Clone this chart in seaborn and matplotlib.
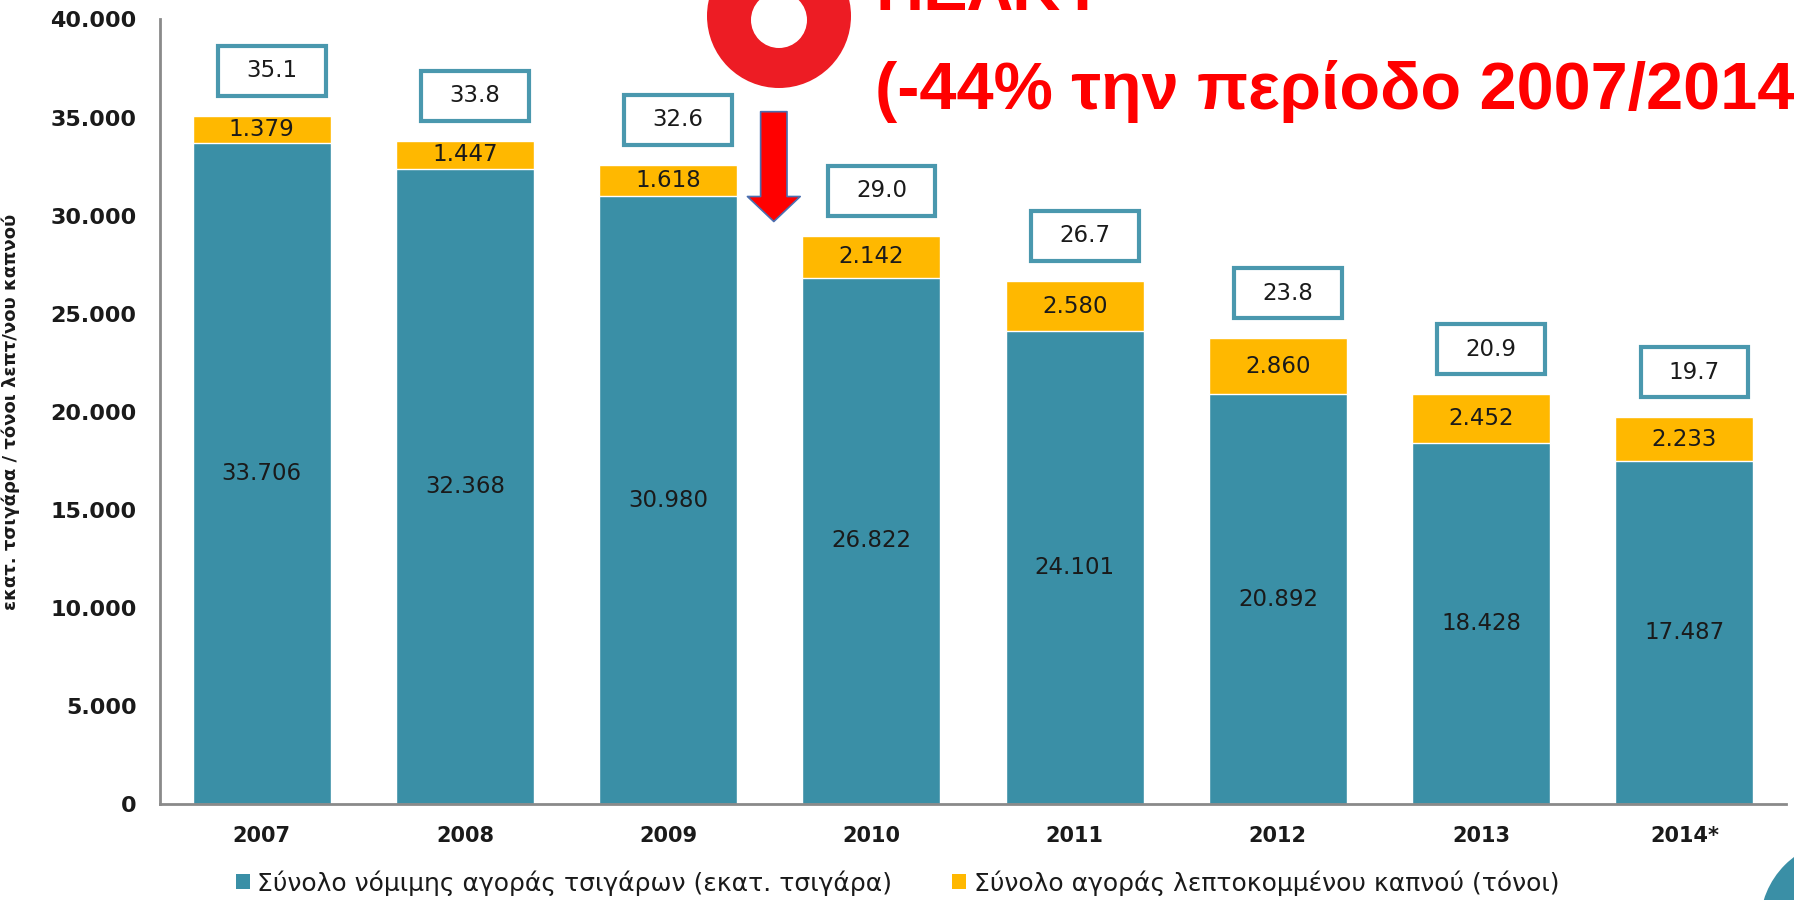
import matplotlib
matplotlib.use('Agg')
import matplotlib.pyplot as plt
import seaborn as sns
from matplotlib.patches import Rectangle, Patch, Circle
from matplotlib.ticker import FuncFormatter, FixedLocator

# data
years = ['2007', '2008', '2009', '2010', '2011', '2012', '2013', '2014*']
legal_cigs = [33706, 32368, 30980, 26822, 24101, 20892, 18428, 17487]   # εκατ. τσιγάρα
fine_cut = [1379, 1447, 1618, 2142, 2580, 2860, 2452, 2233]            # τόνοι
total_labels = ['35.1', '33.8', '32.6', '29.0', '26.7', '23.8', '20.9', '19.7']
legend_names = ['Σύνολο νόμιμης αγοράς τσιγάρων (εκατ. τσιγάρα)',
                'Σύνολο αγοράς λεπτοκομμένου καπνού (τόνοι)']
headline = ['ΠΕΛΚΥ', '(-44% την περίοδο 2007/2014']

teal = '#3A8FA6'
orange = '#FFB800'
box_edge = '#4A98AE'
axis_grey = '#8A8A8A'
txt = '#1A1A1A'

sns.set_style('white')
plt.rcParams['font.family'] = ['DejaVu Sans']

def dotted(v, pos=None):
    return f'{int(v):,}'.replace(',', '.')

totals = [a + b for a, b in zip(legal_cigs, fine_cut)]

fig = plt.figure(figsize=(17.94, 9), dpi=100)
ax = fig.add_axes([160 / 1794, 1 - 804 / 900, 1626 / 1794, 784.5 / 900])

# stacked bars: total first (orange), legal cigarettes on top of it (teal)
sns.barplot(x=years, y=totals, color=orange, width=0.68, saturation=1, ax=ax)
sns.barplot(x=years, y=legal_cigs, color=teal, width=0.68, saturation=1, ax=ax)

ax.set_ylim(0, 40000)
ax.set_xlim(-0.5, len(years) - 0.5)
ax.set_yticks(range(0, 40001, 5000))
ax.yaxis.set_major_formatter(FuncFormatter(dotted))

for s in ['top', 'right']:
    ax.spines[s].set_visible(False)
for s in ['left', 'bottom']:
    ax.spines[s].set_color(axis_grey)
    ax.spines[s].set_linewidth(2)

ax.tick_params(axis='y', length=6, width=1.8, color=axis_grey, pad=11,
               labelsize=16, labelcolor=txt)
ax.tick_params(axis='x', which='major', length=0, pad=16, labelsize=15, labelcolor=txt)
ax.xaxis.set_minor_locator(FixedLocator([i - 0.5 for i in range(len(years) + 1)]))
ax.tick_params(axis='x', which='minor', length=6, width=1.8, color=axis_grey)
for lab in ax.get_xticklabels() + ax.get_yticklabels():
    lab.set_fontweight('bold')

ax.set_xlabel('')
ax.set_ylabel('εκατ. τσιγάρα / τόνοι λεπτ/νου καπνού', fontsize=13,
              fontweight='bold', color=txt)
ax.yaxis.set_label_coords(-0.086, 0.5)

# value labels inside the segments and boxed totals above the bars
box_w, box_h, box_gap = 0.53, 2550, 2300
for i in range(len(years)):
    ax.text(i, legal_cigs[i] / 2, dotted(legal_cigs[i]), ha='center', va='center',
            fontsize=16.5, color=txt)
    ax.text(i, legal_cigs[i] + fine_cut[i] / 2, dotted(fine_cut[i]), ha='center',
            va='center', fontsize=16.5, color=txt)
    cy = totals[i] + box_gap
    ax.add_patch(Rectangle((i + 0.05 - box_w / 2, cy - box_h / 2), box_w, box_h,
                           facecolor='white', edgecolor=box_edge, lw=3, zorder=4))
    ax.text(i + 0.05, cy, total_labels[i], ha='center', va='center', fontsize=16.5,
            color=txt, zorder=5)

# red downward arrow between 2009 and 2010
ax.annotate('', xy=(2.52, 29700), xytext=(2.52, 35300),
            arrowprops=dict(arrowstyle='simple,head_width=38,head_length=18,tail_width=19',
                            mutation_scale=1, fc='#FF0000', ec='#4A6FB0', lw=1.2,
                            shrinkA=0, shrinkB=0), zorder=6)

handles = [Patch(facecolor=teal, edgecolor='none'), Patch(facecolor=orange, edgecolor='none')]
fig.legend(handles, legend_names, loc='center left', bbox_to_anchor=(236 / 1794, 17 / 900),
           ncol=2, frameon=False, fontsize=18, handlelength=0.55, handleheight=0.55,
           handletextpad=0.3, columnspacing=2.4, borderpad=0, borderaxespad=0,
           labelcolor=txt)

# decorations from the slide, in pixel coordinates
ov = fig.add_axes([0, 0, 1, 1])
ov.set_xlim(0, 1794)
ov.set_ylim(900, 0)
ov.axis('off')
ov.patch.set_alpha(0)
ov.add_patch(Circle((779, 16), 72, color='#ED1C24', lw=0))
ov.add_patch(Circle((779, 20), 28, color='white', lw=0))
ov.add_patch(Circle((1845, 925), 85, color=teal, lw=0))
red_font = ['Liberation Sans', 'DejaVu Sans']
ov.text(875, 10, headline[0], color='#FF0000', fontsize=48, fontweight='bold',
        family=red_font, va='baseline', ha='left')
ov.text(875, 109, headline[1], color='#FF0000', fontsize=48, fontweight='bold',
        family=red_font, va='baseline', ha='left')

fig.savefig('out.png', dpi=100)
